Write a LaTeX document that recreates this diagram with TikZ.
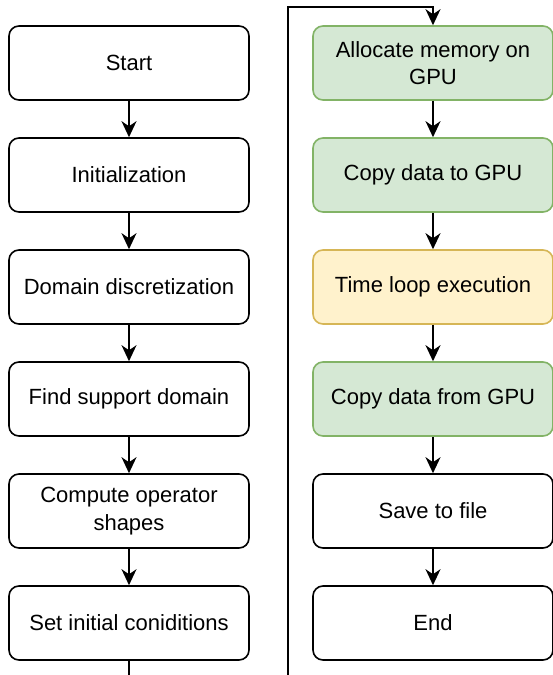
\documentclass[tikz,border=0pt]{standalone}
\usepackage{fontspec}
\setmainfont{Liberation Sans}
\usetikzlibrary{arrows.meta}
\definecolor{gfill}{HTML}{D5E8D4}
\definecolor{gdraw}{HTML}{82B366}
\definecolor{yfill}{HTML}{FFF2CC}
\definecolor{ydraw}{HTML}{D6B656}
\tikzset{
  stepbox/.style={draw=black, fill=white, line width=1.6pt, rounded corners=10pt,
    minimum width=240pt, minimum height=74pt, inner sep=0pt, align=center,
    font=\fontsize{22}{27.5}\selectfont},
  gpubox/.style={stepbox, draw=gdraw, fill=gfill},
  loopbox/.style={stepbox, draw=ydraw, fill=yfill},
  conn/.style={line width=1.6pt, -{Stealth[length=16pt, width=15pt, inset=5pt]}},
}
\begin{document}
\begin{tikzpicture}[x=1pt, y=-1pt]
\clip (0,0) rectangle (553,675);
\fill[white] (0,0) rectangle (553,675);
% left column
\node[stepbox] (start) at (129,63) {Start};
\node[stepbox] (init) at (129,175) {Initialization};
\node[stepbox] (disc) at (129,287) {Domain discretization};
\node[stepbox] (supp) at (129,399) {Find support domain};
\node[stepbox] (comp) at (129,511) {Compute operator\\shapes};
\node[stepbox] (setc) at (129,623) {Set initial coniditions};
% right column
\node[gpubox] (alloc) at (433,63) {Allocate memory on\\GPU};
\node[gpubox] (cpto) at (433,175) {Copy data to GPU};
\node[loopbox] (tloop) at (433,287) {Time loop execution};
\node[gpubox] (cpfrom) at (433,399) {Copy data from GPU};
\node[stepbox] (save) at (433,511) {Save to file};
\node[stepbox] (endn) at (433,623) {End};
% connectors
\draw[conn] (start) -- (init);
\draw[conn] (init) -- (disc);
\draw[conn] (disc) -- (supp);
\draw[conn] (supp) -- (comp);
\draw[conn] (comp) -- (setc);
\draw[conn] (alloc) -- (cpto);
\draw[conn] (cpto) -- (tloop);
\draw[conn] (tloop) -- (cpfrom);
\draw[conn] (cpfrom) -- (save);
\draw[conn] (save) -- (endn);
\coordinate (b1) at (129,700);
\coordinate (b2) at (288,700);
\coordinate (t1) at (288,7);
\draw[conn] (setc.south) -- (b1) -- (b2) -- (t1) -| (alloc.north);
\end{tikzpicture}
\end{document}
